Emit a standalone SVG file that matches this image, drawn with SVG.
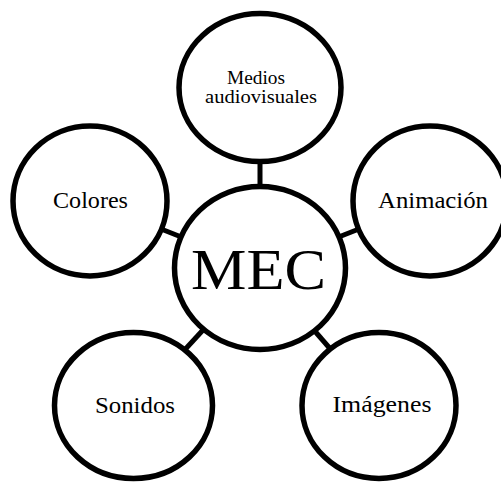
<svg xmlns="http://www.w3.org/2000/svg" width="501" height="482" viewBox="0 0 501 482">
<style>
.n{fill:#fff;stroke:#000;stroke-width:5.5}
.c{stroke:#000;stroke-width:5}
text{font-family:"Liberation Serif","Times New Roman",serif;fill:#000;text-anchor:middle}
.s{font-size:23px}
.m{font-size:19px}
</style>
<rect width="501" height="482" fill="#fff"/>
<g id="connectors">
<line class="c" x1="260" y1="88" x2="260" y2="268"/>
<line class="c" x1="90" y1="201" x2="260" y2="268"/>
<line class="c" x1="430" y1="201" x2="260" y2="268"/>
<line class="c" x1="134" y1="405" x2="260" y2="268"/>
<line class="c" x1="379" y1="405" x2="260" y2="268"/>
</g>
<g id="medios">
<ellipse class="n" cx="260" cy="87.5" rx="81" ry="74"/>
<text class="m" x="256" y="84" textLength="58" lengthAdjust="spacingAndGlyphs">Medios</text>
<text class="m" x="261" y="103" textLength="112" lengthAdjust="spacingAndGlyphs">audiovisuales</text>
</g>
<g id="colores">
<ellipse class="n" cx="90" cy="201" rx="77" ry="75"/>
<text class="s" x="90.5" y="208" textLength="75" lengthAdjust="spacingAndGlyphs">Colores</text>
</g>
<g id="animacion">
<ellipse class="n" cx="430" cy="201" rx="77" ry="75"/>
<text class="s" x="433" y="208" textLength="110" lengthAdjust="spacingAndGlyphs">Animación</text>
</g>
<g id="sonidos">
<ellipse class="n" cx="133.5" cy="405.5" rx="79" ry="73"/>
<text class="s" x="135" y="413" textLength="80" lengthAdjust="spacingAndGlyphs">Sonidos</text>
</g>
<g id="imagenes">
<ellipse class="n" cx="379" cy="405.5" rx="77" ry="73"/>
<text class="s" x="382" y="412" textLength="99" lengthAdjust="spacingAndGlyphs">Imágenes</text>
</g>
<g id="mec">
<ellipse class="n" cx="260" cy="268" rx="85.5" ry="81.5"/>
<text x="258.5" y="289" font-size="58" textLength="135" lengthAdjust="spacingAndGlyphs">MEC</text>
</g>
</svg>
